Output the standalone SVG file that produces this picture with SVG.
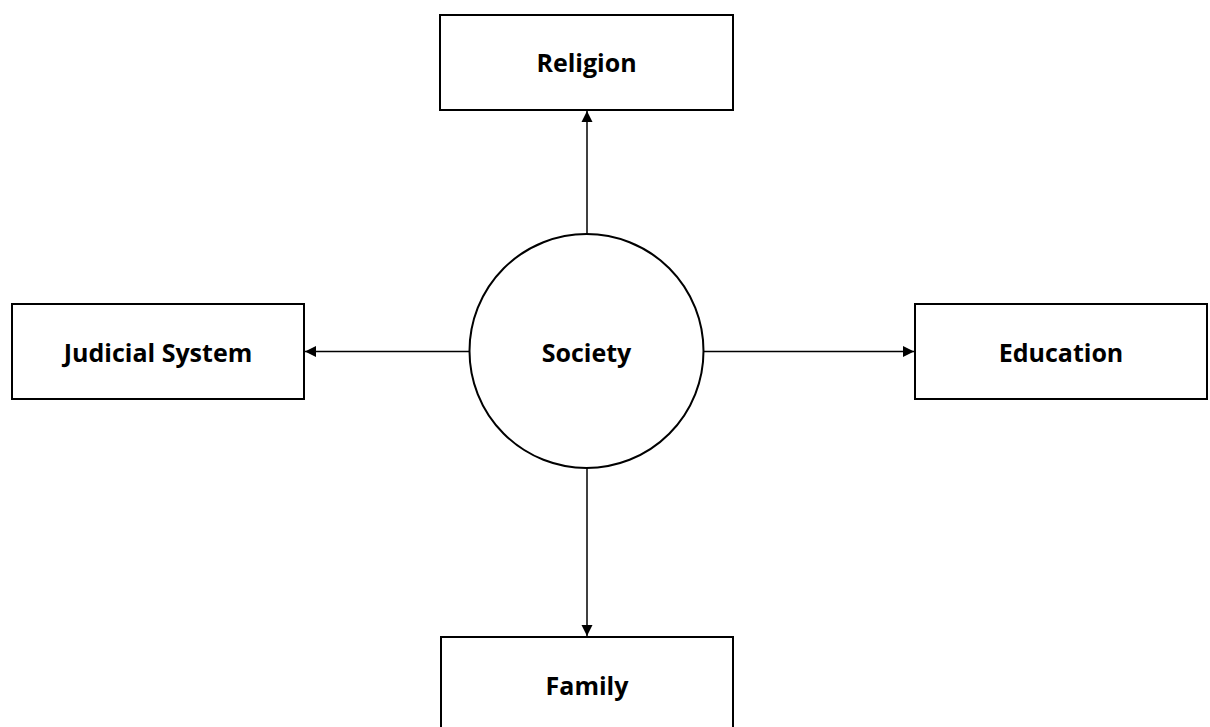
<svg xmlns="http://www.w3.org/2000/svg" width="1210" height="727" viewBox="0 0 1210 727">
<style>
.box{fill:#fff;stroke:#000;stroke-width:2}
.lbl{font-family:"Open Sans","Liberation Sans",sans-serif;font-weight:bold;font-size:25px;fill:#000;text-anchor:middle}
.conn{stroke:#000;stroke-width:1.5;fill:none;marker-end:url(#ah)}
</style>
<defs>
<marker id="ah" markerWidth="12" markerHeight="12" refX="11" refY="6" orient="auto" markerUnits="userSpaceOnUse">
<path d="M0,0.5 L11,6 L0,11.5 Z" fill="#000"/>
</marker>
</defs>
<rect width="1210" height="727" fill="#fff"/>
<g id="connectors">
<line class="conn" x1="587" y1="234" x2="587" y2="111"/>
<line class="conn" x1="470" y1="351.5" x2="305" y2="351.5"/>
<line class="conn" x1="703" y1="351.5" x2="914" y2="351.5"/>
<line class="conn" x1="587" y1="468" x2="587" y2="636"/>
</g>
<g id="religion">
<rect class="box" x="440" y="15" width="293" height="95"/>
<text class="lbl" x="586.5" y="72">Religion</text>
</g>
<g id="judicial">
<rect class="box" x="12" y="304" width="292" height="95"/>
<text class="lbl" x="158" y="362">Judicial System</text>
</g>
<g id="education">
<rect class="box" x="915" y="304" width="292" height="95"/>
<text class="lbl" x="1061" y="362">Education</text>
</g>
<g id="family">
<rect class="box" x="441" y="637" width="292" height="95"/>
<text class="lbl" x="587" y="695">Family</text>
</g>
<g id="society">
<circle class="box" cx="586.5" cy="351" r="117"/>
<text class="lbl" x="586.5" y="362">Society</text>
</g>
</svg>
